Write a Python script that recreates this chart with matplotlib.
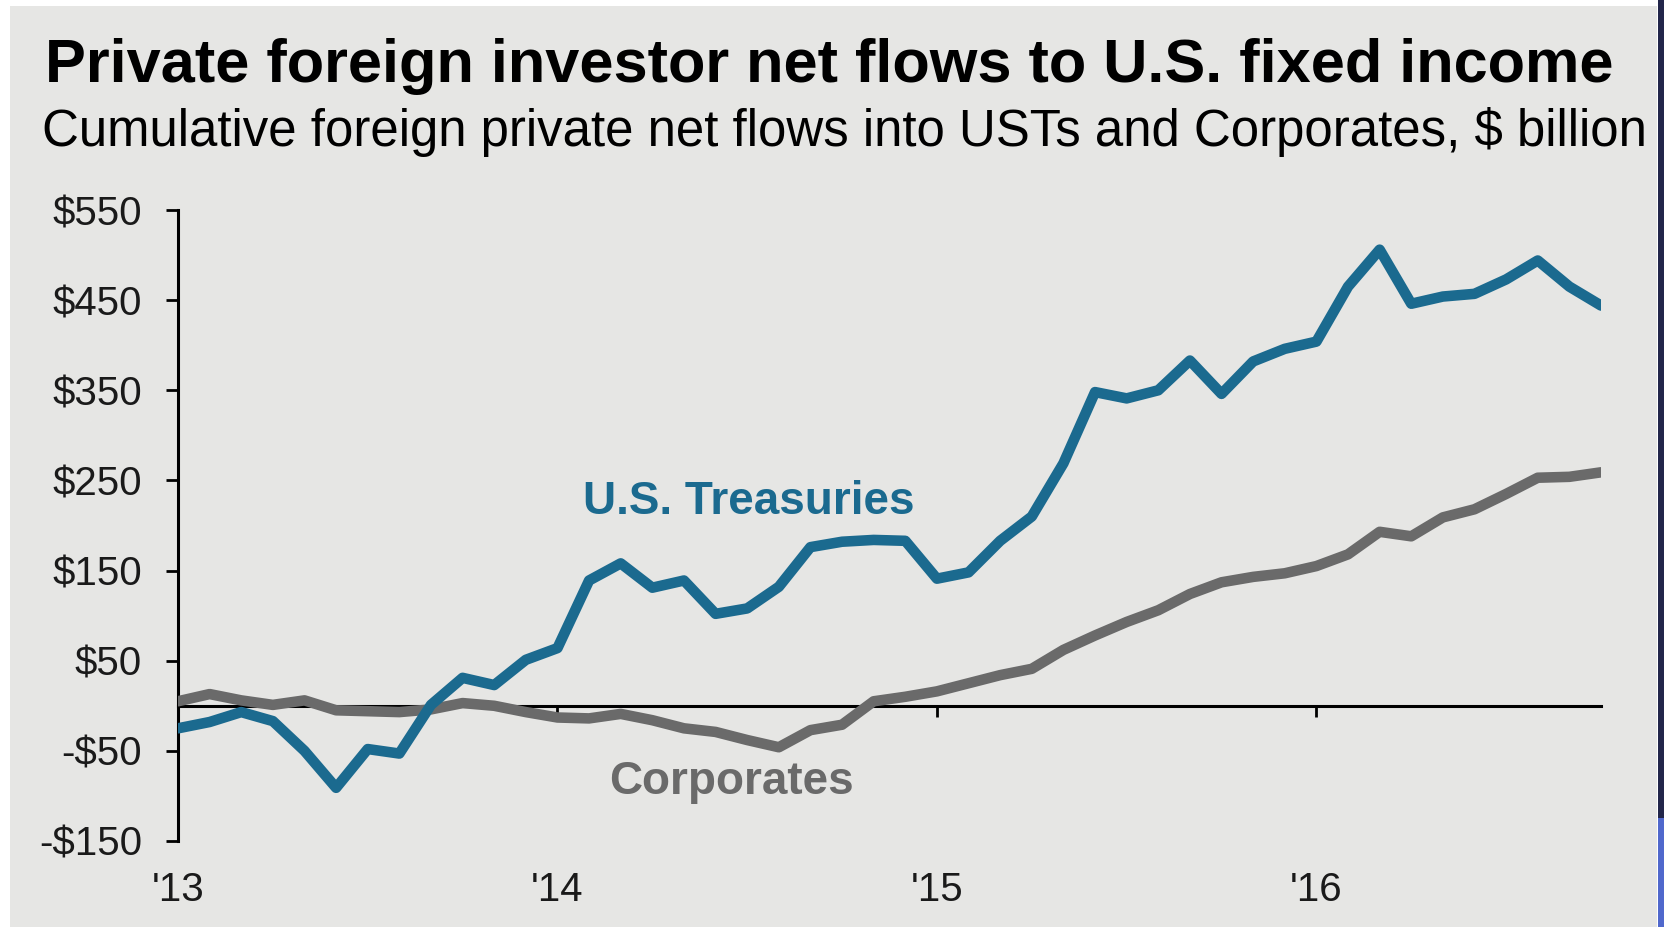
import matplotlib.pyplot as plt
from matplotlib.patches import Rectangle
import numpy as np

plt.rcParams['font.family'] = ['Liberation Sans', 'DejaVu Sans']

# monthly cumulative net flows, Jan 2013 - Oct 2016 ($ billion)
ust = [-25, -18, -7, -17, -50, -91, -48, -53, 1, 31, 23, 51,
       64, 139, 158, 131, 139, 102, 108, 132, 176, 182, 184, 183,
       141, 148, 183, 210, 269, 348, 341, 350, 383, 346, 382, 396,
       404, 465, 506, 446, 454, 457, 473, 494, 465, 444]
corp = [5, 13, 6, 1, 6, -5, -6, -7, -4, 3, 0, -7,
        -13, -14, -9, -16, -25, -29, -38, -46, -27, -21, 5, 10,
        16, 25, 34, 41, 62, 78, 93, 106, 124, 137, 143, 147,
        155, 168, 193, 188, 209, 218, 235, 253, 254, 259]
year_ticks = [0, 12, 24, 36]
year_labels = ["'13", "'14", "'15", "'16"]
y_ticks = [-150, -50, 50, 150, 250, 350, 450, 550]
y_labels = ['-$150', '-$50', '$50', '$150', '$250', '$350', '$450', '$550']

blue = '#1b6a8f'
grey = '#6a6a6a'
panel = '#e6e6e4'

W, H = 1665, 927
fig = plt.figure(figsize=(W / 100, H / 100), dpi=100, facecolor='white')

# background panel and the strip on the right edge (kept behind the axes)
fig.patches.append(Rectangle((10 / W, 0), 1647 / W, 921 / H, transform=fig.transFigure,
                             facecolor=panel, edgecolor='none', zorder=-2))
fig.patches.append(Rectangle((1658 / W, 109 / H), 7 / W, 818 / H, transform=fig.transFigure,
                             facecolor='#22264a', edgecolor='none', zorder=-2))
fig.patches.append(Rectangle((1658 / W, 0), 7 / W, 109 / H, transform=fig.transFigure,
                             facecolor='#5068cc', edgecolor='none', zorder=-2))

ax = fig.add_axes([178 / W, 86 / H, 1423 / W, 631 / H])
ax.set_facecolor('none')

months = np.arange(len(ust))
ax.plot(months, corp, color=grey, lw=7.6, solid_capstyle='round',
        solid_joinstyle='round', zorder=3)
ax.plot(months, ust, color=blue, lw=7.6, solid_capstyle='round',
        solid_joinstyle='round', zorder=4)

ax.set_xlim(0, 45)
ax.set_ylim(-150, 550)

for s in ['top', 'right']:
    ax.spines[s].set_visible(False)
ax.spines['left'].set_linewidth(2.2)
ax.spines['bottom'].set_linewidth(2.2)
ax.spines['bottom'].set_position(('data', 0))

ax.set_yticks(y_ticks)
ax.set_yticklabels(y_labels)
ax.set_xticks(year_ticks)
ax.set_xticklabels(year_labels)
ax.tick_params(axis='y', direction='out', length=9, width=2, pad=17,
               labelsize=29, labelcolor='#1a1a1a')
ax.tick_params(axis='x', direction='out', length=8, width=2, pad=111,
               labelsize=29, labelcolor='#1a1a1a')

ax.text(18.05, 226, 'U.S. Treasuries', color=blue, fontsize=33,
        fontweight='bold', ha='center', va='center')
ax.text(17.5, -85, 'Corporates', color=grey, fontsize=33,
        fontweight='bold', ha='center', va='center')

fig.text(45 / W, 1 - 82 / H, 'Private foreign investor net flows to U.S. fixed income',
         fontsize=44.1, fontweight='bold', ha='left', va='baseline', color='black')
fig.text(42 / W, 1 - 146 / H,
         'Cumulative foreign private net flows into USTs and Corporates, $ billion',
         fontsize=36.7, ha='left', va='baseline', color='black')

fig.savefig('out.png', dpi=100, facecolor=fig.get_facecolor())
